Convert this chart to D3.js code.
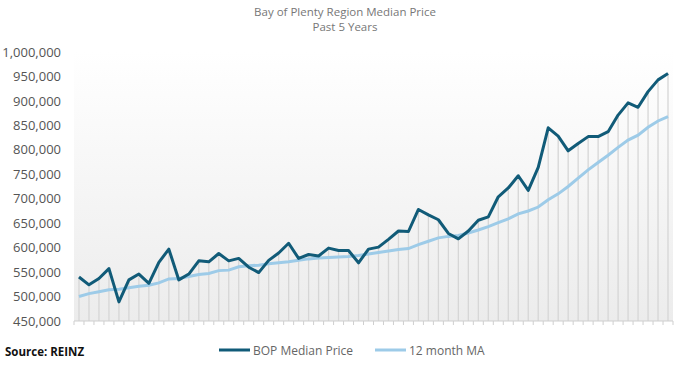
<!DOCTYPE html>
<html>
<head>
<meta charset="utf-8">
<script src="https://cdn.jsdelivr.net/npm/d3@7"></script>
<style>
  body { margin: 0; background: #fff; }
  text { font-family: "Open Sans", sans-serif; }
</style>
</head>
<body>
<script>
// BOP median price by month, past 5 years
const bopMedian = [540000, 524000, 537000, 557000, 489000, 534000, 546000, 527000, 570000, 597000,
  534000, 546000, 573000, 571000, 588000, 573000, 578000, 560000, 549000, 574000,
  589000, 609000, 578000, 586000, 583000, 599000, 594000, 594000, 569000, 597000,
  601000, 617000, 634000, 633000, 678000, 667000, 657000, 629000, 618000, 634000,
  656000, 663000, 704000, 722000, 747000, 717000, 764000, 845000, 828000, 798000,
  813000, 827000, 827000, 837000, 871000, 896000, 887000, 919000, 943000, 956000];

// 12 month moving average
const movingAvg = [500000, 506000, 510000, 514000, 515000, 518000, 521000, 523000, 528000, 536000,
  537000, 541000, 545000, 547000, 553000, 554000, 561000, 563000, 564000, 567000,
  569000, 571000, 574000, 577000, 579000, 580000, 581000, 582000, 584000, 587000,
  590000, 593000, 596000, 598000, 606000, 613000, 620000, 623000, 625000, 630000,
  636000, 643000, 651000, 659000, 669000, 675000, 683000, 698000, 710000, 725000,
  742000, 759000, 774000, 789000, 805000, 820000, 830000, 846000, 859000, 868000];

const months = bopMedian.map((d, i) => i);
const yTicks = [450000, 500000, 550000, 600000, 650000, 700000, 750000, 800000, 850000, 900000, 950000, 1000000];

const width = 688, height = 367;
const margin = { top: 52, right: 15, bottom: 46, left: 74 };

const svg = d3.select('body')
  .append('svg')
  .attr('width', width)
  .attr('height', height);

const x = d3.scaleBand()
  .domain(months)
  .range([margin.left, width - margin.right]);

const y = d3.scaleLinear()
  .domain([450000, 1000000])
  .range([height - margin.bottom, margin.top]);

const cx = i => x(i) + x.bandwidth() / 2;

// plot background gradient
const grad = svg.append('defs').append('linearGradient')
  .attr('id', 'bg')
  .attr('x1', 0).attr('y1', 0).attr('x2', 0).attr('y2', 1);
grad.append('stop').attr('offset', '0%').attr('stop-color', '#ffffff');
grad.append('stop').attr('offset', '100%').attr('stop-color', '#ececec');

svg.append('rect')
  .attr('x', margin.left)
  .attr('y', margin.top)
  .attr('width', width - margin.right - margin.left)
  .attr('height', height - margin.bottom - margin.top)
  .attr('fill', 'url(#bg)');

// title
svg.append('text')
  .attr('x', 345).attr('y', 16)
  .attr('text-anchor', 'middle')
  .attr('font-size', 11.5)
  .attr('fill', '#777')
  .text('Bay of Plenty Region Median Price');
svg.append('text')
  .attr('x', 345).attr('y', 31)
  .attr('text-anchor', 'middle')
  .attr('font-size', 11.5)
  .attr('fill', '#777')
  .text('Past 5 Years');

// y axis labels
svg.append('g')
  .attr('transform', `translate(${margin.left - 10},0)`)
  .call(d3.axisLeft(y).tickValues(yTicks).tickFormat(d3.format(',')).tickSize(0))
  .call(g => g.select('.domain').remove())
  .call(g => g.selectAll('text')
    .attr('font-family', '"Open Sans", sans-serif')
    .attr('font-size', 13)
    .attr('fill', '#555'));

// drop lines from each price point
svg.append('g')
  .selectAll('line')
  .data(bopMedian)
  .join('line')
  .attr('x1', (d, i) => cx(i))
  .attr('x2', (d, i) => cx(i))
  .attr('y1', d => y(d))
  .attr('y2', y(450000))
  .attr('stroke', '#d6d6d6')
  .attr('stroke-width', 1.3);

// x axis line with ticks at band edges
const xAxis = svg.append('g');
xAxis.append('line')
  .attr('x1', margin.left).attr('x2', width - margin.right)
  .attr('y1', y(450000)).attr('y2', y(450000))
  .attr('stroke', '#cfcfcf');
xAxis.selectAll('.tick')
  .data(months.concat([months.length]))
  .join('line')
  .attr('class', 'tick')
  .attr('x1', d => margin.left + d * x.bandwidth())
  .attr('x2', d => margin.left + d * x.bandwidth())
  .attr('y1', y(450000))
  .attr('y2', y(450000) + 4)
  .attr('stroke', '#cfcfcf');

const line = d3.line()
  .x((d, i) => cx(i))
  .y(d => y(d));

svg.append('path')
  .datum(movingAvg)
  .attr('fill', 'none')
  .attr('stroke', '#9dcbe8')
  .attr('stroke-width', 3)
  .attr('d', line);

svg.append('path')
  .datum(bopMedian)
  .attr('fill', 'none')
  .attr('stroke', '#115b78')
  .attr('stroke-width', 3)
  .attr('stroke-linejoin', 'round')
  .attr('d', line);

// legend
const legend = svg.append('g');
const legendItems = [
  { name: 'BOP Median Price', color: '#115b78', x: 219 },
  { name: '12 month MA', color: '#9dcbe8', x: 375 }
];
legendItems.forEach(item => {
  legend.append('line')
    .attr('x1', item.x).attr('x2', item.x + 31)
    .attr('y1', 350).attr('y2', 350)
    .attr('stroke', item.color)
    .attr('stroke-width', 3);
  legend.append('text')
    .attr('x', item.x + 34).attr('y', 354.5)
    .attr('font-size', 12)
    .attr('fill', '#666')
    .text(item.name);
});

// source note
svg.append('text')
  .attr('x', 5).attr('y', 356)
  .attr('font-size', 11.5)
  .attr('font-weight', 'bold')
  .attr('fill', '#111')
  .text('Source: REINZ');
</script>
</body>
</html>
